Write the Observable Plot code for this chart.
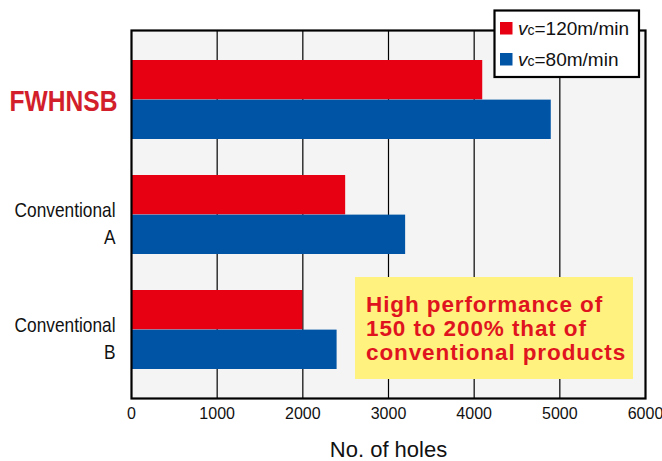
<!DOCTYPE html>
<html>
<head>
<meta charset="utf-8">
<script src="https://cdn.jsdelivr.net/npm/d3@7"></script>
<script src="https://cdn.jsdelivr.net/npm/@observablehq/plot@0.6"></script>
<style>
  html, body { margin: 0; padding: 0; background: #fff; }
  #chart svg { display: block; }
</style>
</head>
<body>
<div id="chart"></div>
<script>
// ---- data ----
const categories = ["FWHNSB", "Conventional\nA", "Conventional\nB"];
const seriesLabels = ["=120m/min", "=80m/min"];
const values120 = [4100, 2500, 2000];
const values80 = [4900, 3200, 2400];
const xTicks = [0, 1000, 2000, 3000, 4000, 5000, 6000];
const calloutLines = ["High performance of", "150 to 200% that of", "conventional products"];
const xLabel = "No. of holes";

const RED = "#e60012";
const BLUE = "#0054a6";

const W = 662, H = 461;
const margin = {top: 30, right: 17, bottom: 63, left: 131};
const padInner = 0.314, padOuter = 0.25;
const bw = d3.scaleBand().domain(categories).range([margin.top, H - margin.bottom])
  .paddingInner(padInner).paddingOuter(padOuter).bandwidth();
const half = bw / 2;

const rows120 = categories.map((c, i) => ({cat: c, v: values120[i]}));
const rows80 = categories.map((c, i) => ({cat: c, v: values80[i]}));
const labelRows = categories.map(c => ({cat: c}));

const plot = Plot.plot({
  width: W, height: H,
  marginTop: margin.top, marginRight: margin.right, marginBottom: margin.bottom, marginLeft: margin.left,
  style: {fontFamily: "'Liberation Sans', Arial, sans-serif", background: "transparent"},
  x: {domain: [0, 6000], axis: null, label: null},
  y: {domain: categories, paddingInner: padInner, paddingOuter: padOuter, axis: null, label: null},
  marks: [
    Plot.frame({fill: "#f4f4f4", stroke: "none"}),
    Plot.ruleX(xTicks.slice(1, -1), {stroke: "#000", strokeWidth: 1.2}),
    Plot.barX(rows120, {y: "cat", x: "v", fill: RED, insetBottom: half}),
    Plot.barX(rows80, {y: "cat", x: "v", fill: BLUE, insetTop: half}),
    Plot.frame({stroke: "#000", strokeWidth: 2.2}),
    Plot.axisX({ticks: xTicks, tickSize: 0, tickPadding: 9, fontSize: 16, label: null, tickFormat: d => String(d), fill: "#111"}),
    Plot.text([xLabel], {frameAnchor: "bottom", dy: 51, fontSize: 22, lineAnchor: "middle", fill: "#111"}),
    Plot.text(labelRows.filter((d, i) => i === 0), {
      y: "cat", text: "cat", frameAnchor: "left", dx: -14, dy: 1.5, textAnchor: "end",
      fontSize: 30, fontWeight: "bold", fill: "#d21f2b", className: "lab-main"
    }),
    Plot.text(labelRows.filter((d, i) => i > 0), {
      y: "cat", text: "cat", frameAnchor: "left", dx: -16, dy: 6.5, textAnchor: "end",
      fontSize: 20, lineHeight: 1.35, fill: "#111", className: "lab-conv"
    })
  ]
});

const svg = d3.select(plot);

// condense category labels (narrow typeface in the reference)
svg.selectAll("g.lab-main text").attr("transform", function() {
  return (this.getAttribute("transform") || "") + " scale(0.82,1)";
});
svg.selectAll("g.lab-conv text").attr("transform", function() {
  return (this.getAttribute("transform") || "") + " scale(0.865,1)";
});

// ---- callout box ----
const cg = svg.append("g").attr("text-anchor", "start");
cg.append("rect").attr("x", 355).attr("y", 277).attr("width", 278).attr("height", 102).attr("fill", "#fff27f");
cg.selectAll("text").data(calloutLines).join("text")
  .attr("x", 366).attr("y", (d, i) => 312 + i * 24)
  .attr("fill", "#e0141e").attr("font-weight", "bold").attr("font-size", 22.5)
  .attr("font-family", "'Liberation Sans', Arial, sans-serif")
  .attr("letter-spacing", 0.9)
  .text(d => d);

// ---- legend ----
const lg = svg.append("g").attr("text-anchor", "start");
lg.append("rect").attr("x", 494.5).attr("y", 10.5).attr("width", 144.5).attr("height", 66.5)
  .attr("fill", "#fff").attr("stroke", "#000").attr("stroke-width", 2.2);
const legendColors = [RED, BLUE];
seriesLabels.forEach((lab, i) => {
  const y0 = 22 + i * 31;
  lg.append("rect").attr("x", 500).attr("y", y0).attr("width", 12.5).attr("height", 12.5).attr("fill", legendColors[i]);
  const t = lg.append("text").attr("x", 518).attr("y", y0 + 13)
    .attr("font-size", 19).attr("fill", "#111")
    .attr("font-family", "'Liberation Sans', Arial, sans-serif");
  t.append("tspan").attr("font-style", "italic").text("v");
  t.append("tspan").attr("font-size", 14).text("c");
  t.append("tspan").text(lab);
});

document.getElementById("chart").appendChild(plot);
</script>
</body>
</html>
